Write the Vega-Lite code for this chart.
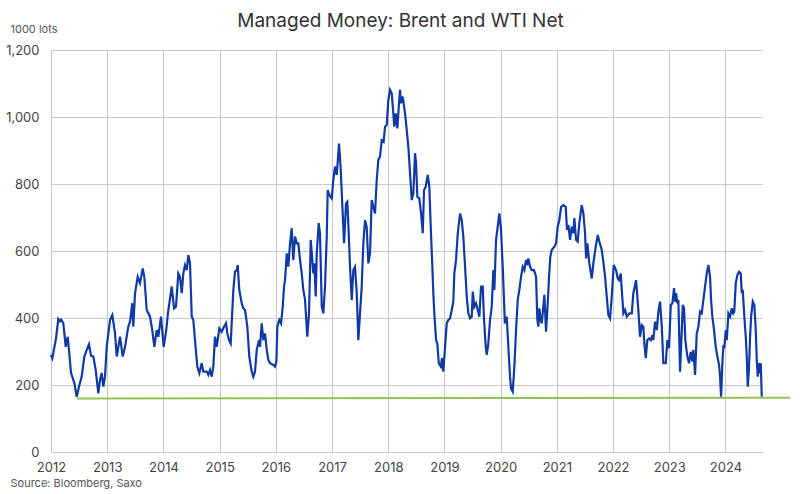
{
  "$schema": "https://vega.github.io/schema/vega-lite/v6.json",
  "width": 711,
  "height": 402,
  "autosize": {"type": "none"},
  "padding": {"left": 51, "top": 50, "right": 38, "bottom": 42},
  "background": "white",
  "config": {
    "view": {"stroke": null},
    "font": "Inter",
    "axis": {"labelFont": "Inter", "titleFont": "Inter"}
  },
  "title": {
    "text": "Managed Money: Brent and WTI Net",
    "font": "Inter",
    "fontSize": 19,
    "fontWeight": "normal",
    "color": "#333333",
    "anchor": "middle",
    "frame": "group",
    "dx": -6,
    "dy": 12,
    "offset": 4
  },
  "datasets": {
    "mm": [
      {"year": 2012.000, "net": 290}, {"year": 2012.023, "net": 280}, {"year": 2012.09, "net": 340},
      {"year": 2012.130, "net": 397}, {"year": 2012.16, "net": 390}, {"year": 2012.18, "net": 395},
      {"year": 2012.219, "net": 385}, {"year": 2012.262, "net": 314}, {"year": 2012.297, "net": 344},
      {"year": 2012.320, "net": 305}, {"year": 2012.356, "net": 236}, {"year": 2012.415, "net": 206},
      {"year": 2012.457, "net": 165}, {"year": 2012.498, "net": 195}, {"year": 2012.546, "net": 225},
      {"year": 2012.593, "net": 285}, {"year": 2012.635, "net": 305}, {"year": 2012.676, "net": 322},
      {"year": 2012.712, "net": 287}, {"year": 2012.753, "net": 285}, {"year": 2012.795, "net": 245},
      {"year": 2012.842, "net": 175}, {"year": 2012.872, "net": 215}, {"year": 2012.902, "net": 236},
      {"year": 2012.931, "net": 195}, {"year": 2012.961, "net": 225}, {"year": 2012.991, "net": 314},
      {"year": 2013.050, "net": 394}, {"year": 2013.091, "net": 409}, {"year": 2013.139, "net": 355},
      {"year": 2013.169, "net": 285}, {"year": 2013.228, "net": 344}, {"year": 2013.276, "net": 285},
      {"year": 2013.317, "net": 314}, {"year": 2013.375, "net": 374}, {"year": 2013.406, "net": 389},
      {"year": 2013.447, "net": 444}, {"year": 2013.464, "net": 374}, {"year": 2013.495, "net": 474},
      {"year": 2013.543, "net": 523}, {"year": 2013.584, "net": 504}, {"year": 2013.632, "net": 548},
      {"year": 2013.660, "net": 523}, {"year": 2013.703, "net": 424}, {"year": 2013.762, "net": 404},
      {"year": 2013.802, "net": 364}, {"year": 2013.838, "net": 314}, {"year": 2013.881, "net": 364},
      {"year": 2013.909, "net": 344}, {"year": 2013.957, "net": 404}, {"year": 2014.005, "net": 314},
      {"year": 2014.05, "net": 364}, {"year": 2014.08, "net": 414}, {"year": 2014.148, "net": 494},
      {"year": 2014.189, "net": 429}, {"year": 2014.224, "net": 434}, {"year": 2014.265, "net": 533},
      {"year": 2014.295, "net": 523}, {"year": 2014.326, "net": 474}, {"year": 2014.354, "net": 533},
      {"year": 2014.384, "net": 558}, {"year": 2014.415, "net": 543}, {"year": 2014.443, "net": 588},
      {"year": 2014.473, "net": 563}, {"year": 2014.504, "net": 404}, {"year": 2014.532, "net": 394},
      {"year": 2014.562, "net": 334}, {"year": 2014.603, "net": 255}, {"year": 2014.639, "net": 235},
      {"year": 2014.681, "net": 265}, {"year": 2014.710, "net": 240}, {"year": 2014.770, "net": 240},
      {"year": 2014.799, "net": 230}, {"year": 2014.829, "net": 245}, {"year": 2014.859, "net": 225},
      {"year": 2014.888, "net": 255}, {"year": 2014.918, "net": 344}, {"year": 2014.948, "net": 314},
      {"year": 2014.995, "net": 369}, {"year": 2015.037, "net": 359}, {"year": 2015.078, "net": 374},
      {"year": 2015.114, "net": 384}, {"year": 2015.137, "net": 354}, {"year": 2015.167, "net": 334},
      {"year": 2015.197, "net": 324}, {"year": 2015.215, "net": 384}, {"year": 2015.244, "net": 484},
      {"year": 2015.274, "net": 538}, {"year": 2015.304, "net": 543}, {"year": 2015.322, "net": 558},
      {"year": 2015.350, "net": 484}, {"year": 2015.393, "net": 444}, {"year": 2015.422, "net": 429},
      {"year": 2015.452, "net": 424}, {"year": 2015.493, "net": 374}, {"year": 2015.528, "net": 285},
      {"year": 2015.571, "net": 240}, {"year": 2015.600, "net": 225}, {"year": 2015.630, "net": 240},
      {"year": 2015.660, "net": 305}, {"year": 2015.701, "net": 334}, {"year": 2015.719, "net": 314},
      {"year": 2015.749, "net": 384}, {"year": 2015.778, "net": 334}, {"year": 2015.808, "net": 354},
      {"year": 2015.838, "net": 305}, {"year": 2015.867, "net": 275}, {"year": 2015.897, "net": 265},
      {"year": 2015.956, "net": 260}, {"year": 2015.986, "net": 255}, {"year": 2016.010, "net": 270},
      {"year": 2016.027, "net": 374}, {"year": 2016.062, "net": 394}, {"year": 2016.093, "net": 384},
      {"year": 2016.123, "net": 434}, {"year": 2016.146, "net": 494}, {"year": 2016.164, "net": 513},
      {"year": 2016.194, "net": 593}, {"year": 2016.222, "net": 553}, {"year": 2016.253, "net": 623},
      {"year": 2016.283, "net": 668}, {"year": 2016.311, "net": 573}, {"year": 2016.342, "net": 643},
      {"year": 2016.372, "net": 623}, {"year": 2016.400, "net": 623}, {"year": 2016.431, "net": 573},
      {"year": 2016.461, "net": 533}, {"year": 2016.489, "net": 484}, {"year": 2016.520, "net": 454},
      {"year": 2016.560, "net": 344}, {"year": 2016.591, "net": 414}, {"year": 2016.621, "net": 633},
      {"year": 2016.649, "net": 573}, {"year": 2016.667, "net": 533}, {"year": 2016.685, "net": 563},
      {"year": 2016.710, "net": 464}, {"year": 2016.728, "net": 593}, {"year": 2016.763, "net": 683},
      {"year": 2016.786, "net": 653}, {"year": 2016.817, "net": 434}, {"year": 2016.845, "net": 414},
      {"year": 2016.875, "net": 494}, {"year": 2016.906, "net": 643}, {"year": 2016.923, "net": 782},
      {"year": 2016.952, "net": 767}, {"year": 2016.995, "net": 757}, {"year": 2017.023, "net": 812},
      {"year": 2017.053, "net": 852}, {"year": 2017.084, "net": 827}, {"year": 2017.125, "net": 921},
      {"year": 2017.155, "net": 842}, {"year": 2017.190, "net": 712}, {"year": 2017.214, "net": 623},
      {"year": 2017.249, "net": 742}, {"year": 2017.272, "net": 747}, {"year": 2017.297, "net": 653},
      {"year": 2017.320, "net": 553}, {"year": 2017.351, "net": 454}, {"year": 2017.379, "net": 543},
      {"year": 2017.409, "net": 553}, {"year": 2017.440, "net": 474}, {"year": 2017.468, "net": 334},
      {"year": 2017.498, "net": 414}, {"year": 2017.528, "net": 494}, {"year": 2017.557, "net": 623},
      {"year": 2017.587, "net": 692}, {"year": 2017.617, "net": 672}, {"year": 2017.646, "net": 563},
      {"year": 2017.676, "net": 593}, {"year": 2017.706, "net": 752}, {"year": 2017.735, "net": 732},
      {"year": 2017.765, "net": 712}, {"year": 2017.795, "net": 812}, {"year": 2017.824, "net": 872},
      {"year": 2017.854, "net": 882}, {"year": 2017.884, "net": 931}, {"year": 2017.918, "net": 926},
      {"year": 2017.943, "net": 971}, {"year": 2017.973, "net": 976}, {"year": 2018.002, "net": 1051},
      {"year": 2018.032, "net": 1081}, {"year": 2018.062, "net": 1071}, {"year": 2018.091, "net": 1011},
      {"year": 2018.108, "net": 971}, {"year": 2018.133, "net": 1011}, {"year": 2018.162, "net": 966},
      {"year": 2018.192, "net": 1041}, {"year": 2018.210, "net": 1081}, {"year": 2018.228, "net": 1041},
      {"year": 2018.258, "net": 1061}, {"year": 2018.299, "net": 1011}, {"year": 2018.329, "net": 961},
      {"year": 2018.358, "net": 911}, {"year": 2018.388, "net": 832}, {"year": 2018.418, "net": 752},
      {"year": 2018.447, "net": 772}, {"year": 2018.477, "net": 892}, {"year": 2018.495, "net": 862},
      {"year": 2018.518, "net": 762}, {"year": 2018.553, "net": 757}, {"year": 2018.584, "net": 712},
      {"year": 2018.614, "net": 653}, {"year": 2018.637, "net": 782}, {"year": 2018.667, "net": 792},
      {"year": 2018.703, "net": 827}, {"year": 2018.731, "net": 792}, {"year": 2018.756, "net": 673},
      {"year": 2018.785, "net": 553}, {"year": 2018.802, "net": 474}, {"year": 2018.820, "net": 414},
      {"year": 2018.851, "net": 334}, {"year": 2018.874, "net": 324}, {"year": 2018.899, "net": 265},
      {"year": 2018.934, "net": 255}, {"year": 2018.957, "net": 280}, {"year": 2018.980, "net": 240},
      {"year": 2019.011, "net": 314}, {"year": 2019.041, "net": 384}, {"year": 2019.069, "net": 394},
      {"year": 2019.100, "net": 399}, {"year": 2019.130, "net": 424}, {"year": 2019.158, "net": 449},
      {"year": 2019.176, "net": 533}, {"year": 2019.206, "net": 573}, {"year": 2019.237, "net": 653},
      {"year": 2019.278, "net": 712}, {"year": 2019.308, "net": 692}, {"year": 2019.336, "net": 643},
      {"year": 2019.367, "net": 553}, {"year": 2019.397, "net": 464}, {"year": 2019.425, "net": 414},
      {"year": 2019.456, "net": 399}, {"year": 2019.486, "net": 404}, {"year": 2019.504, "net": 479},
      {"year": 2019.532, "net": 434}, {"year": 2019.562, "net": 444}, {"year": 2019.593, "net": 424},
      {"year": 2019.621, "net": 404}, {"year": 2019.651, "net": 494}, {"year": 2019.681, "net": 494},
      {"year": 2019.705, "net": 394}, {"year": 2019.735, "net": 314}, {"year": 2019.753, "net": 290},
      {"year": 2019.781, "net": 324}, {"year": 2019.811, "net": 394}, {"year": 2019.842, "net": 434},
      {"year": 2019.870, "net": 543}, {"year": 2019.888, "net": 484}, {"year": 2019.918, "net": 633},
      {"year": 2019.948, "net": 673}, {"year": 2019.977, "net": 712}, {"year": 2020.007, "net": 663},
      {"year": 2020.040, "net": 540}, {"year": 2020.075, "net": 384}, {"year": 2020.108, "net": 404},
      {"year": 2020.137, "net": 314}, {"year": 2020.167, "net": 225}, {"year": 2020.185, "net": 190},
      {"year": 2020.215, "net": 180}, {"year": 2020.244, "net": 255}, {"year": 2020.274, "net": 364},
      {"year": 2020.304, "net": 454}, {"year": 2020.333, "net": 484}, {"year": 2020.363, "net": 523},
      {"year": 2020.393, "net": 553}, {"year": 2020.422, "net": 543}, {"year": 2020.452, "net": 573},
      {"year": 2020.475, "net": 558}, {"year": 2020.493, "net": 578}, {"year": 2020.523, "net": 553},
      {"year": 2020.553, "net": 543}, {"year": 2020.594, "net": 543}, {"year": 2020.630, "net": 523},
      {"year": 2020.653, "net": 394}, {"year": 2020.671, "net": 374}, {"year": 2020.689, "net": 429},
      {"year": 2020.714, "net": 394}, {"year": 2020.731, "net": 384}, {"year": 2020.760, "net": 434},
      {"year": 2020.778, "net": 469}, {"year": 2020.808, "net": 359}, {"year": 2020.838, "net": 444},
      {"year": 2020.861, "net": 523}, {"year": 2020.884, "net": 583}, {"year": 2020.909, "net": 603},
      {"year": 2020.956, "net": 613}, {"year": 2020.986, "net": 623}, {"year": 2021.016, "net": 673},
      {"year": 2021.044, "net": 692}, {"year": 2021.075, "net": 732}, {"year": 2021.116, "net": 737},
      {"year": 2021.158, "net": 732}, {"year": 2021.181, "net": 663}, {"year": 2021.205, "net": 678},
      {"year": 2021.235, "net": 633}, {"year": 2021.265, "net": 673}, {"year": 2021.294, "net": 653},
      {"year": 2021.311, "net": 698}, {"year": 2021.342, "net": 633}, {"year": 2021.372, "net": 628},
      {"year": 2021.400, "net": 683}, {"year": 2021.443, "net": 737}, {"year": 2021.472, "net": 712},
      {"year": 2021.502, "net": 653}, {"year": 2021.520, "net": 578}, {"year": 2021.543, "net": 623},
      {"year": 2021.578, "net": 563}, {"year": 2021.621, "net": 518}, {"year": 2021.649, "net": 563},
      {"year": 2021.692, "net": 613}, {"year": 2021.728, "net": 648}, {"year": 2021.756, "net": 628},
      {"year": 2021.799, "net": 603}, {"year": 2021.827, "net": 568}, {"year": 2021.858, "net": 523},
      {"year": 2021.888, "net": 464}, {"year": 2021.916, "net": 409}, {"year": 2021.947, "net": 399},
      {"year": 2021.977, "net": 464}, {"year": 2022.012, "net": 558}, {"year": 2022.053, "net": 543},
      {"year": 2022.084, "net": 518}, {"year": 2022.107, "net": 513}, {"year": 2022.137, "net": 533},
      {"year": 2022.155, "net": 484}, {"year": 2022.184, "net": 414}, {"year": 2022.214, "net": 424},
      {"year": 2022.244, "net": 404}, {"year": 2022.290, "net": 414}, {"year": 2022.333, "net": 414},
      {"year": 2022.361, "net": 474}, {"year": 2022.409, "net": 513}, {"year": 2022.432, "net": 464},
      {"year": 2022.450, "net": 424}, {"year": 2022.480, "net": 344}, {"year": 2022.511, "net": 379},
      {"year": 2022.539, "net": 374}, {"year": 2022.557, "net": 324}, {"year": 2022.582, "net": 280},
      {"year": 2022.610, "net": 334}, {"year": 2022.641, "net": 339}, {"year": 2022.671, "net": 334},
      {"year": 2022.699, "net": 349}, {"year": 2022.717, "net": 334}, {"year": 2022.747, "net": 389},
      {"year": 2022.778, "net": 364}, {"year": 2022.806, "net": 419}, {"year": 2022.836, "net": 449},
      {"year": 2022.867, "net": 374}, {"year": 2022.895, "net": 265}, {"year": 2022.938, "net": 265},
      {"year": 2022.966, "net": 334}, {"year": 2022.996, "net": 310}, {"year": 2023.027, "net": 439},
      {"year": 2023.055, "net": 444}, {"year": 2023.085, "net": 489}, {"year": 2023.103, "net": 449},
      {"year": 2023.121, "net": 474}, {"year": 2023.144, "net": 444}, {"year": 2023.162, "net": 454},
      {"year": 2023.192, "net": 240}, {"year": 2023.223, "net": 364}, {"year": 2023.240, "net": 439},
      {"year": 2023.263, "net": 429}, {"year": 2023.286, "net": 334}, {"year": 2023.322, "net": 285},
      {"year": 2023.352, "net": 265}, {"year": 2023.382, "net": 299}, {"year": 2023.411, "net": 270},
      {"year": 2023.429, "net": 305}, {"year": 2023.459, "net": 230}, {"year": 2023.489, "net": 354},
      {"year": 2023.518, "net": 374}, {"year": 2023.548, "net": 419}, {"year": 2023.578, "net": 414},
      {"year": 2023.607, "net": 454}, {"year": 2023.637, "net": 494}, {"year": 2023.667, "net": 533},
      {"year": 2023.696, "net": 558}, {"year": 2023.726, "net": 523}, {"year": 2023.744, "net": 454},
      {"year": 2023.767, "net": 404}, {"year": 2023.797, "net": 364}, {"year": 2023.827, "net": 314},
      {"year": 2023.856, "net": 285}, {"year": 2023.886, "net": 260}, {"year": 2023.904, "net": 225},
      {"year": 2023.922, "net": 165}, {"year": 2023.945, "net": 265}, {"year": 2023.963, "net": 319},
      {"year": 2023.980, "net": 310}, {"year": 2024.005, "net": 364}, {"year": 2024.023, "net": 334},
      {"year": 2024.052, "net": 414}, {"year": 2024.082, "net": 404}, {"year": 2024.112, "net": 429},
      {"year": 2024.139, "net": 414}, {"year": 2024.157, "net": 419}, {"year": 2024.183, "net": 504},
      {"year": 2024.211, "net": 528}, {"year": 2024.242, "net": 538}, {"year": 2024.272, "net": 533},
      {"year": 2024.290, "net": 474}, {"year": 2024.307, "net": 484}, {"year": 2024.336, "net": 404},
      {"year": 2024.361, "net": 344}, {"year": 2024.379, "net": 285}, {"year": 2024.397, "net": 195},
      {"year": 2024.420, "net": 255}, {"year": 2024.438, "net": 344}, {"year": 2024.456, "net": 404},
      {"year": 2024.486, "net": 449}, {"year": 2024.514, "net": 439}, {"year": 2024.539, "net": 364},
      {"year": 2024.557, "net": 275}, {"year": 2024.575, "net": 225}, {"year": 2024.592, "net": 265},
      {"year": 2024.610, "net": 235}, {"year": 2024.628, "net": 265}, {"year": 2024.646, "net": 165}
    ],
    "floor": [
      {"year": 2012.457, "net": 160},
      {"year": 2025.15, "net": 162}
    ]
  },
  "layer": [
    {
      "data": {"name": "mm"},
      "mark": {"type": "line", "color": "#0f3aa6", "strokeWidth": 2.2, "clip": false},
      "encoding": {
        "x": {
          "field": "year",
          "type": "quantitative",
          "scale": {"domain": [2012, 2024.65], "nice": false, "zero": false},
          "axis": {
            "values": [2012, 2013, 2014, 2015, 2016, 2017, 2018, 2019, 2020, 2021, 2022, 2023, 2024],
            "format": "d",
            "grid": true,
            "gridColor": "#c8c8c8",
            "gridWidth": 1,
            "domain": false,
            "ticks": false,
            "labelPadding": 9,
            "labelFontSize": 13,
            "labelColor": "#444444",
            "labelFlush": false,
            "title": "Source: Bloomberg, Saxo",
            "titleX": -41,
            "titleY": 31,
            "titleAlign": "left",
            "titleBaseline": "middle",
            "titleFontSize": 11,
            "titleFontWeight": "normal",
            "titleColor": "#555555"
          }
        },
        "y": {
          "field": "net",
          "type": "quantitative",
          "scale": {"domain": [0, 1200], "nice": false},
          "axis": {
            "values": [0, 200, 400, 600, 800, 1000, 1200],
            "format": ",d",
            "grid": true,
            "gridColor": "#c8c8c8",
            "gridWidth": 1,
            "domain": false,
            "ticks": false,
            "labelPadding": 12,
            "labelFontSize": 13,
            "labelColor": "#444444",
            "title": "1000 lots",
            "titleAngle": 0,
            "titleX": -41,
            "titleY": -21,
            "titleAlign": "left",
            "titleBaseline": "middle",
            "titleFontSize": 11,
            "titleFontWeight": "normal",
            "titleColor": "#555555"
          }
        }
      }
    },
    {
      "data": {"name": "floor"},
      "mark": {"type": "line", "color": "#92c15a", "strokeWidth": 2, "clip": false},
      "encoding": {
        "x": {"field": "year", "type": "quantitative"},
        "y": {"field": "net", "type": "quantitative"}
      }
    }
  ]
}
